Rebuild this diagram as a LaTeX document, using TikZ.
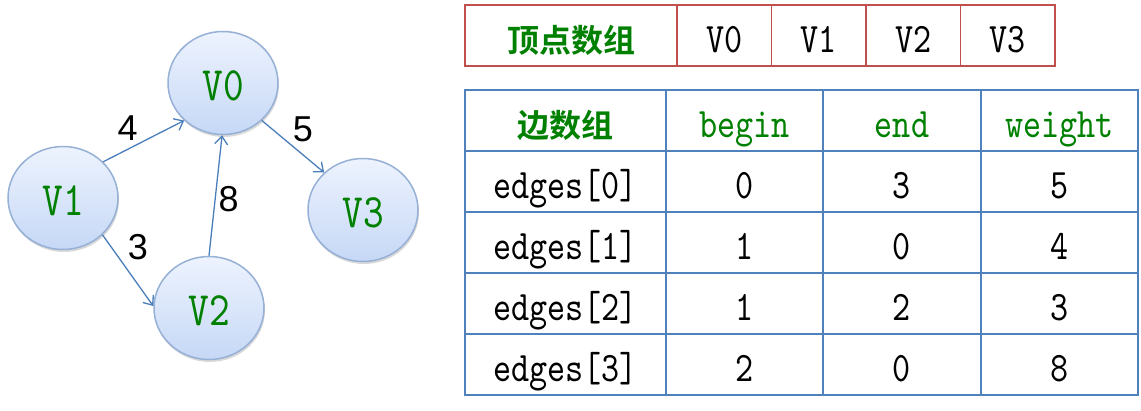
\documentclass[tikz,border=0pt]{standalone}
\usepackage{fontspec}
\usepackage{tikz}
\usepackage{xcolor}
\usetikzlibrary{arrows.meta,shadows,shapes.geometric}
\newfontfamily\labelfont{Liberation Sans}
\newfontfamily\cjkfont{Noto Sans CJK SC Bold}
\newfontfamily\cellfont{lmmono10-regular.otf}[FakeStretch=0.82]
\definecolor{title-green}{RGB}{0,128,0}
\definecolor{arc-blue}{RGB}{74,126,187}
\definecolor{vertex-border}{RGB}{150,176,214}
\definecolor{vertex-top}{RGB}{237,243,254}
\definecolor{vertex-bottom}{RGB}{198,216,246}
\definecolor{vertex-red}{RGB}{192,80,77}
\definecolor{edge-blue}{RGB}{79,129,189}
\tikzset{
    vertex/.style = {ellipse, draw=vertex-border, line width=1.5pt, top color=vertex-top, bottom color=vertex-bottom, minimum width=110pt, minimum height=103pt, inner sep=0pt, text height=36pt, text depth=2pt, drop shadow={opacity=0.3, shadow xshift=1pt, shadow yshift=-2.5pt}, text=title-green, font=\cellfont\fontsize{48}{48}\selectfont},
    weight-label/.style = {inner sep=0pt, font=\labelfont\fontsize{36}{36}\selectfont},
    arc-line/.style = {draw=arc-blue, line width=1.3pt, -{Straight Barb[length=8pt,width=13pt]}},
    vertex-cell/.style = {draw=vertex-red, line width=1.5pt, rectangle, anchor=north west, minimum height=61pt, inner sep=0pt, outer sep=0pt, text height=36pt, text depth=2pt, font=\cellfont\fontsize{42}{42}\selectfont},
    edge-cell/.style = {draw=edge-blue, line width=1.5pt, rectangle, anchor=north west, minimum height=61pt, inner sep=0pt, outer sep=0pt, text height=36pt, text depth=2pt, font=\cellfont\fontsize{42}{42}\selectfont},
    cell-title/.style = {text=title-green, font=\cjkfont\fontsize{32}{32}\selectfont},
    field-title/.style = {text=title-green},
}
\begin{document}
\begin{tikzpicture}[x=1pt, y=-1pt]
\useasboundingbox (0,0) rectangle (1141,410);
% graph
\node[vertex] (v0) at (223,83) {V0};
\node[vertex] (v1) at (63,198) {V1};
\node[vertex] (v2) at (209,308) {V2};
\node[vertex] (v3) at (363,210) {V3};
\draw[arc-line] (v1.42) -- node[weight-label, xshift=-16pt, yshift=13pt] {4} (v0.224);
\draw[arc-line] (v0.316) -- node[weight-label, xshift=10pt, yshift=17pt] {5} (v3.136);
\draw[arc-line] (v1.317) -- node[weight-label, xshift=10pt, yshift=23pt] {3} (v2.178);
\draw[arc-line] (v2.90) -- node[weight-label, xshift=13pt, yshift=-4pt] {8} (v0.269);
% vertex array
\node[vertex-cell, cell-title, minimum width=212pt] (vert-title) at (465,5) {顶点数组};
\node[vertex-cell, minimum width=94.5pt] (vert-v0) at (vert-title.north east) {V0};
\node[vertex-cell, minimum width=94.5pt] (vert-v1) at (vert-v0.north east) {V1};
\node[vertex-cell, minimum width=94.5pt] (vert-v2) at (vert-v1.north east) {V2};
\node[vertex-cell, minimum width=94.5pt] (vert-v3) at (vert-v2.north east) {V3};
% edge array
\node[edge-cell, cell-title, minimum width=201pt] (edge-title) at (465,90) {边数组};
\node[edge-cell, field-title, minimum width=157pt] (col-begin) at (edge-title.north east) {begin};
\node[edge-cell, field-title, minimum width=158pt] (col-end) at (col-begin.north east) {end};
\node[edge-cell, field-title, minimum width=157pt] (col-weight) at (col-end.north east) {weight};
\node[edge-cell, minimum width=201pt] (e0-name) at (edge-title.south west) {edges[0]};
\node[edge-cell, minimum width=157pt] (e0-begin) at (e0-name.north east) {0};
\node[edge-cell, minimum width=158pt] (e0-end) at (e0-begin.north east) {3};
\node[edge-cell, minimum width=157pt] (e0-weight) at (e0-end.north east) {5};
\node[edge-cell, minimum width=201pt] (e1-name) at (e0-name.south west) {edges[1]};
\node[edge-cell, minimum width=157pt] (e1-begin) at (e1-name.north east) {1};
\node[edge-cell, minimum width=158pt] (e1-end) at (e1-begin.north east) {0};
\node[edge-cell, minimum width=157pt] (e1-weight) at (e1-end.north east) {4};
\node[edge-cell, minimum width=201pt] (e2-name) at (e1-name.south west) {edges[2]};
\node[edge-cell, minimum width=157pt] (e2-begin) at (e2-name.north east) {1};
\node[edge-cell, minimum width=158pt] (e2-end) at (e2-begin.north east) {2};
\node[edge-cell, minimum width=157pt] (e2-weight) at (e2-end.north east) {3};
\node[edge-cell, minimum width=201pt] (e3-name) at (e2-name.south west) {edges[3]};
\node[edge-cell, minimum width=157pt] (e3-begin) at (e3-name.north east) {2};
\node[edge-cell, minimum width=158pt] (e3-end) at (e3-begin.north east) {0};
\node[edge-cell, minimum width=157pt] (e3-weight) at (e3-end.north east) {8};
\end{tikzpicture}
\end{document}
